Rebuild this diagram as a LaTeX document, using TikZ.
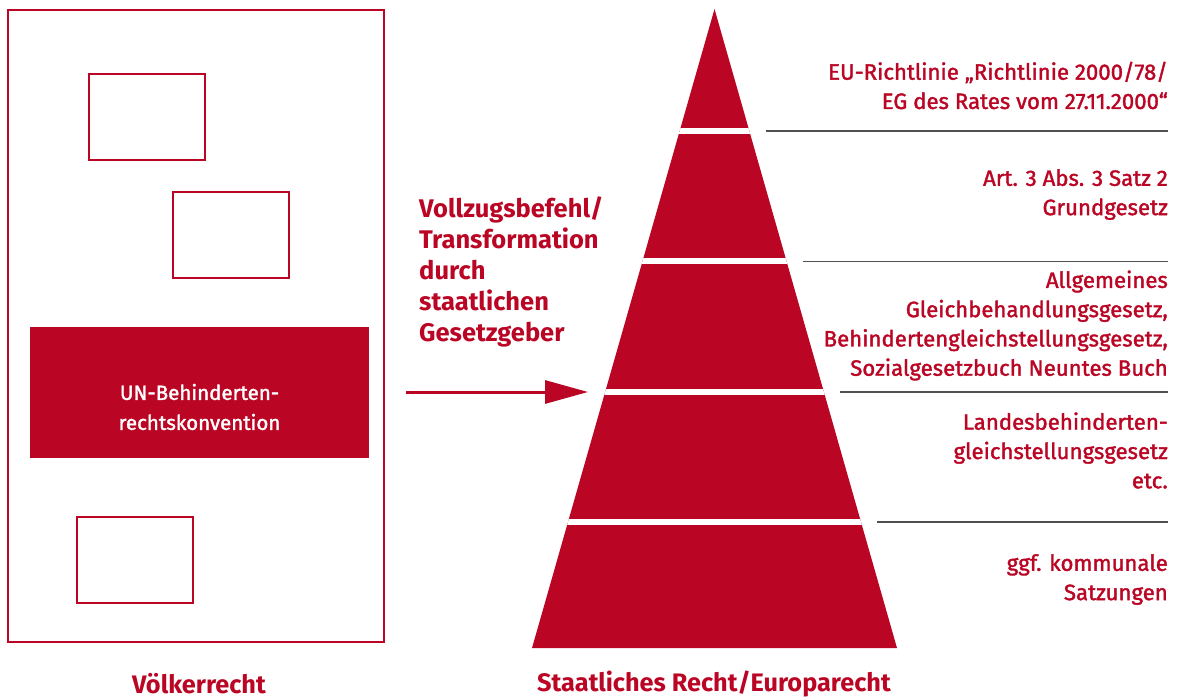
\documentclass[tikz,border=0pt]{standalone}
\usepackage{fontspec}
\setmainfont{Fira Sans}
\newfontfamily\medfont[FakeBold=1.6]{Fira Sans}
\usetikzlibrary{arrows.meta}
\definecolor{brand}{RGB}{186,6,36}
\definecolor{rulegray}{RGB}{80,80,80}
\begin{document}
\begin{tikzpicture}[x=1pt,y=-1pt,
  boxframe/.style={draw=brand, line width=1.2pt, minimum width=116pt, minimum height=86pt, inner sep=0pt},
  unbox/.style={fill=brand, minimum width=339pt, minimum height=131pt, inner sep=0pt},
  untext/.style={text=white, align=center, inner sep=0pt, font=\medfont\fontsize{20.5}{30}\selectfont},
  lawtext/.style={text=brand, align=right, anchor=east, inner sep=0pt, font=\medfont\fontsize{22.2}{29.3}\selectfont},
  headtext/.style={text=brand, align=left, anchor=west, inner sep=0pt, font=\bfseries\fontsize{25.5}{31}\selectfont},
  caption/.style={text=brand, inner sep=0pt, font=\bfseries\fontsize{25.3}{28}\selectfont},
  gap/.style={draw=white, line width=6pt},
  sepline/.style={draw=rulegray, line width=1.3pt},
  bigarrow/.style={draw=brand, line width=3pt, -{Triangle[length=43pt,width=23pt]}}
]
\useasboundingbox (0,0) rectangle (1177,700);

% left panel
\node[boxframe, minimum width=376pt, minimum height=632pt] (outer) at (196,326) {};
\node[boxframe] (b1) at (147,117) {};
\node[boxframe] (b2) at (231,235) {};
\node[boxframe] (b3) at (135,560) {};
\node[unbox] (un) at (199.5,392.5) {};
\node[untext] (untxt) at (199.5,407) {UN-Behinderten-\\rechtskonvention};

% pyramid
\coordinate (apex) at (714.5,9);
\coordinate (bl) at (532,648);
\coordinate (br) at (897,648);
\fill[brand] (apex) -- (br) -- (bl) -- cycle;
\begin{scope}
  \clip (apex) -- (br) -- (bl) -- cycle;
  \draw[gap] (500,131.5) -- (950,131.5);
  \draw[gap] (500,261.5) -- (950,261.5);
  \draw[gap] (500,392) -- (950,392);
  \draw[gap] (500,522) -- (950,522);
\end{scope}

% separator lines
\coordinate (s1a) at (766,131); \coordinate (s1b) at (1168,131);
\coordinate (s2a) at (803,261.5); \coordinate (s2b) at (1168,261.5);
\coordinate (s3a) at (840,392); \coordinate (s3b) at (1168,392);
\coordinate (s4a) at (877,522); \coordinate (s4b) at (1168,522);
\draw[sepline] (s1a) -- (s1b);
\draw[sepline] (s2a) -- (s2b);
\draw[sepline] (s3a) -- (s3b);
\draw[sepline] (s4a) -- (s4b);

% right texts
\node[lawtext] (t1) at (1168,85.5) {EU-Richtlinie „Richtlinie 2000/78/\\EG des Rates vom 27.11.2000“};
\node[lawtext] (t2) at (1168,194.5) {Art. 3 Abs. 3 Satz 2\\Grundgesetz};
\node[lawtext] (t3) at (1168,325.5) {Allgemeines\\Gleichbehandlungsgesetz,\\Behindertengleichstellungsgesetz,\\Sozialgesetzbuch Neuntes Buch};
\node[lawtext] (t4) at (1168,450.5) {Landesbehinderten-\\gleichstellungsgesetz\\etc.};
\node[lawtext] (t5) at (1168,579.5) {ggf. kommunale\\Satzungen};

% middle heading and arrow
\node[headtext] (head) at (419,272) {Vollzugsbefehl/\\Transformation\\durch\\staatlichen\\Gesetzgeber};
\coordinate (arrS) at (406,392);
\coordinate (arrE) at (588,392);
\draw[bigarrow] (arrS) -- (arrE);

% captions
\node[caption] (c1) at (199,684) {Völkerrecht};
\node[caption] (c2) at (714,684) {Staatliches Recht/Europarecht};
\end{tikzpicture}
\end{document}
